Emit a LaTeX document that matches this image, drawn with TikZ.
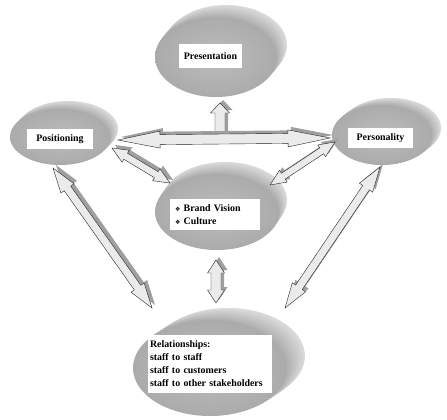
\documentclass[tikz,border=0pt]{standalone}
\usepackage{fontspec}
\setmainfont{Liberation Serif}
\newfontfamily\symf{DejaVu Sans}
\usetikzlibrary{calc,shapes.geometric}
\tikzset{
  face/.style={ellipse, inner color=gray!52, outer color=gray!66, inner sep=0pt},
  labelbox/.style={fill=white, font=\bfseries\fontsize{9.9}{13}\selectfont, inner sep=0pt},
  arrowbody/.style={fill=gray!16, draw=gray!30!black, line width=0.4pt, line join=miter},
  arrowshadow/.style={fill=gray!75, draw=none, transform canvas={shift={(3pt,3pt)}}},
}
% disc: name, cx, cy, rx, ry, dx, dy
\newcommand\mydisc[7]{%
  \foreach \t in {20,19,...,1}{%
    \pgfmathtruncatemacro\c{28+36*(20-\t)/20}
    \fill[gray!\c] ({#2+\t*#6/20},{#3+\t*#7/20}) ellipse [x radius=#4, y radius=#5];
  }
  \node[face, minimum width={2*#4}, minimum height={2*#5}] (#1) at (#2,#3) {};
}
% double block arrow: A, B, half shaft, half head, head length, style
\newcommand\dblshape[6]{%
  \path ($(#1)!#5!(#2)$) coordinate (p1) ($(#2)!#5!(#1)$) coordinate (q1);
  \path[#6] (#1) -- ($(p1)!#4!90:(#2)$) -- ($(p1)!#3!90:(#2)$) -- ($(q1)!#3!-90:(#1)$)
    -- ($(q1)!#4!-90:(#1)$) -- (#2) -- ($(q1)!#4!90:(#1)$) -- ($(q1)!#3!90:(#1)$)
    -- ($(p1)!#3!-90:(#2)$) -- ($(p1)!#4!-90:(#2)$) -- cycle;
}
\newcommand\dblarrow[5]{\dblshape{#1}{#2}{#3}{#4}{#5}{arrowshadow}\dblshape{#1}{#2}{#3}{#4}{#5}{arrowbody}}
% single block arrow: base, tip, half shaft, half head, head length, style
\newcommand\sglshape[6]{%
  \path ($(#2)!#5!(#1)$) coordinate (q1);
  \path[#6] ($(#1)!#3!90:(#2)$) -- ($(q1)!#3!-90:(#1)$) -- ($(q1)!#4!-90:(#1)$) -- (#2)
    -- ($(q1)!#4!90:(#1)$) -- ($(q1)!#3!90:(#1)$) -- ($(#1)!#3!-90:(#2)$) -- cycle;
}
\newcommand\sglarrow[5]{\sglshape{#1}{#2}{#3}{#4}{#5}{arrowshadow}\sglshape{#1}{#2}{#3}{#4}{#5}{arrowbody}}
\newcommand\bul{{\symf\fontsize{6}{8}\selectfont ❖}\ }
\begin{document}
\begin{tikzpicture}[x=1pt,y=-1pt]
\useasboundingbox[fill=white] (0,0) rectangle (447,420);
% discs
\mydisc{pres}{216}{57}{61}{40}{10}{-12}
\mydisc{pos}{60}{137}{50}{28}{8}{-8}
\mydisc{per}{382}{135}{50}{30}{9}{-7}
\mydisc{brand}{217}{212}{62}{38}{8}{-12}
\mydisc{rel}{210}{368}{77}{48}{18}{-12}
% labels
\node[labelbox, minimum width=63, minimum height=24] (presT) at (210.5,56) {Presentation};
\node[labelbox, minimum width=66, minimum height=20] (posT) at (60,139) {Positioning};
\node[labelbox, minimum width=65, minimum height=20] (perT) at (380.5,138) {Personality};
\node[labelbox, text width=80, inner xsep=5, minimum height=31, align=left] (brandT) at (215,214.5)
  {\bul Brand Vision\\\bul Culture};
\node[labelbox, text width=120, inner xsep=2, minimum height=58, align=left] (relT) at (210,364)
  {\hyphenpenalty=10000 Relationships:\\staff to staff\\staff to customers\\staff to other stakeholders};
% arrow end points
\coordinate (upA) at (220,139);
\coordinate (upB) at (220,103);
\coordinate (hA) at (118,140);
\coordinate (hB) at (330,138);
\coordinate (pbA) at (112,148);
\coordinate (pbB) at (170,183);
\coordinate (qbA) at (335,142);
\coordinate (qbB) at (270,185);
\coordinate (prA) at (53,168);
\coordinate (prB) at (152,308);
\coordinate (qrA) at (380,167);
\coordinate (qrB) at (285,308);
\coordinate (brA) at (216,260);
\coordinate (brB) at (216,303);
% arrows
\sglarrow{upA}{upB}{5pt}{9.5pt}{10pt}
\dblarrow{hA}{hB}{5pt}{8.5pt}{42pt}
\dblarrow{pbA}{pbB}{3.5pt}{7pt}{16pt}
\dblarrow{qbA}{qbB}{3.5pt}{7pt}{16pt}
\dblarrow{prA}{prB}{4pt}{8pt}{25pt}
\dblarrow{qrA}{qrB}{4pt}{8pt}{25pt}
\dblarrow{brA}{brB}{5pt}{8.5pt}{13pt}
\end{tikzpicture}
\end{document}
